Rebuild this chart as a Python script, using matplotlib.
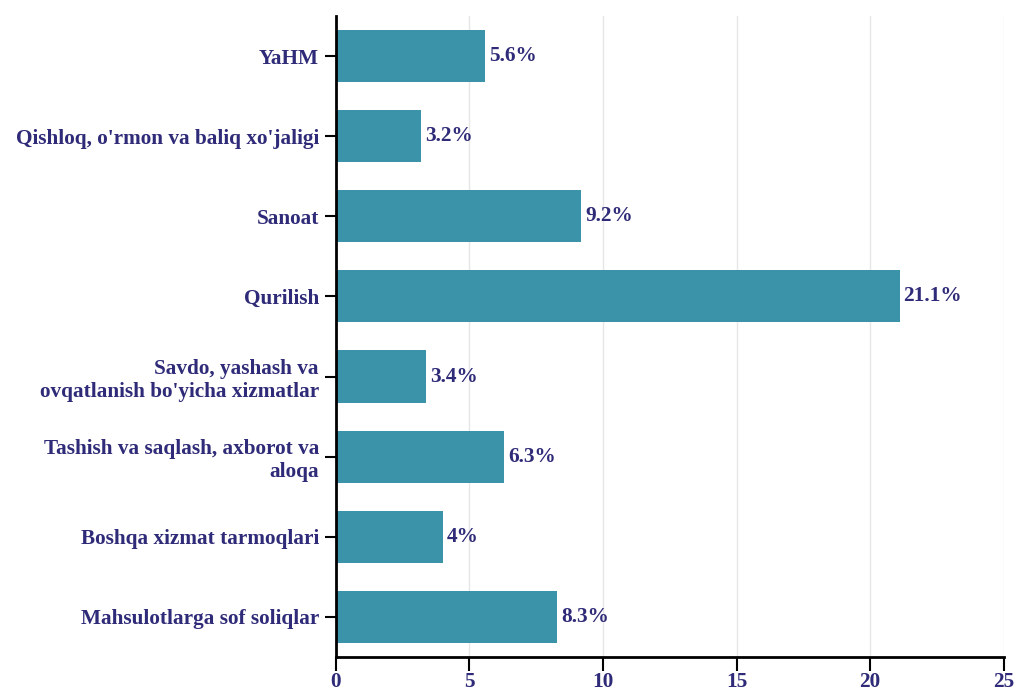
import matplotlib.pyplot as plt

categories = [
    "YaHM",
    "Qishloq, o'rmon va baliq xo'jaligi",
    "Sanoat",
    "Qurilish",
    "Savdo, yashash va\novqatlanish bo'yicha xizmatlar",
    "Tashish va saqlash, axborot va\naloqa",
    "Boshqa xizmat tarmoqlari",
    "Mahsulotlarga sof soliqlar",
]
values = [5.6, 3.2, 9.2, 21.1, 3.4, 6.3, 4.0, 8.3]
labels = ["5.6%", "3.2%", "9.2%", "21.1%", "3.4%", "6.3%", "4%", "8.3%"]
xticks = [0, 5, 10, 15, 20, 25]

TEXT = "#2f2b78"
BAR = "#3a93a8"
FS = 15.3

plt.rcParams['font.family'] = ['Liberation Serif', 'DejaVu Serif']
plt.rcParams['font.weight'] = 'bold'

fig = plt.figure(figsize=(10.17, 6.93), dpi=100)
ax = fig.add_axes([0.330, 0.052, 0.657, 0.925])

pos = list(range(len(categories)))
ax.barh(pos, values, height=0.65, color=BAR, zorder=2)
for p, v, lab in zip(pos, values, labels):
    ax.text(v + 0.15, p, lab, va='center', ha='left', color=TEXT,
            fontsize=FS, fontweight='bold')

ax.set_ylim(len(categories) - 0.5, -0.5)
ax.set_xlim(0, 25)
ax.set_yticks(pos)
ax.set_yticklabels(categories, color=TEXT, fontsize=FS, fontweight='bold',
                   linespacing=1.22)
ax.set_xticks(xticks)
ax.set_xticklabels([str(t) for t in xticks], color=TEXT, fontsize=FS,
                   fontweight='bold')

ax.grid(axis='x', color='#e6e6e6', linewidth=1, zorder=0)
for s in ['top', 'right']:
    ax.spines[s].set_visible(False)
for s in ['left', 'bottom']:
    ax.spines[s].set_linewidth(2)
    ax.spines[s].set_color('black')
ax.spines['bottom'].set_zorder(3)
ax.tick_params(axis='x', length=10, width=1.5, color='black', pad=1)
ax.tick_params(axis='y', length=8, width=1.5, color='black', pad=4)

fig.savefig('out.png', dpi=100)
